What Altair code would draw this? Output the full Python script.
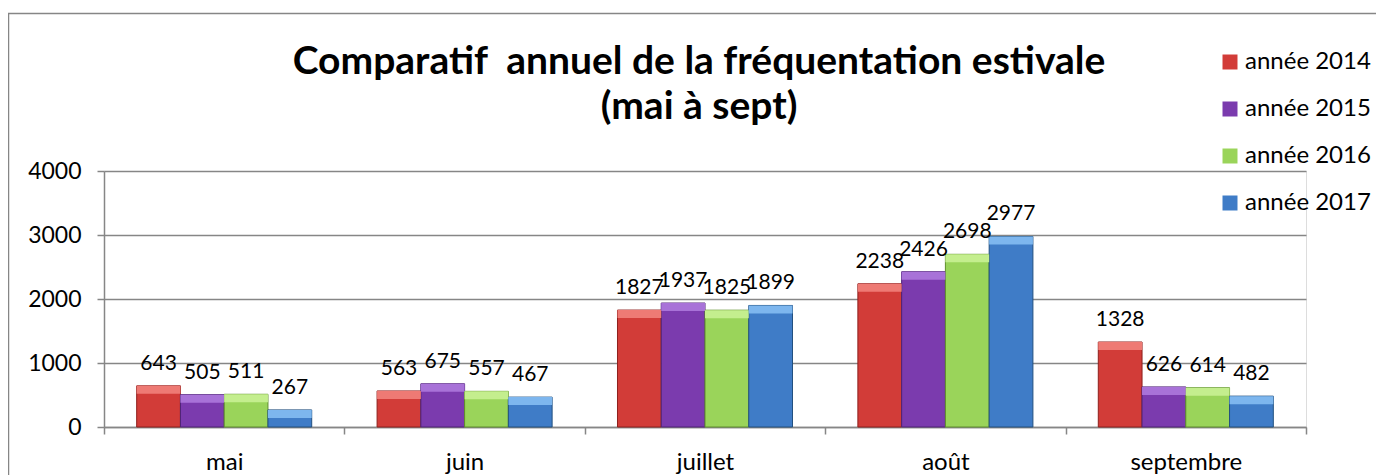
import altair as alt
import pandas as pd

months = ["mai", "juin", "juillet", "août", "septembre"]
years = ["année 2014", "année 2015", "année 2016", "année 2017"]
v2014 = [643, 563, 1827, 2238, 1328]
v2015 = [505, 675, 1937, 2426, 626]
v2016 = [511, 557, 1825, 2698, 614]
v2017 = [267, 467, 1899, 2977, 482]
y_ticks = [0, 1000, 2000, 3000, 4000]
title_lines = ["Comparatif\u00a0 annuel de la fréquentation estivale", "(mai à sept)"]

face = ["#D23C38", "#7B3BAE", "#9AD45A", "#3F7CC7"]
light = ["#EE7A74", "#A872D8", "#C4EE8E", "#7DB6EE"]
dark = ["#8E1F1C", "#4E2277", "#5F8F2C", "#22507F"]

series = [v2014, v2015, v2016, v2017]
rows = []
for yr, vals in zip(years, series):
    for m, v in zip(months, vals):
        rows.append({"mois": m, "annee": yr, "valeur": v})
df = pd.DataFrame(rows)

W, H = 1202, 256
FONT = "Lato"

x_enc = alt.X("mois:N", sort=months, title=None,
              scale=alt.Scale(paddingInner=0, paddingOuter=0),
              axis=alt.Axis(tickBand="extent", labelAngle=0, labelFontSize=24,
                            labelFont=FONT, labelColor="#000000", labelPadding=16,
                            tickSize=7, tickColor="#868686", tickWidth=1.5,
                            domainColor="#868686", domainWidth=1.5, grid=False))
xo_enc = alt.XOffset("annee:N", sort=years,
                     scale=alt.Scale(paddingInner=0, paddingOuter=0.747))
y_scale = alt.Scale(domain=[0, 4000], nice=False)

base = alt.Chart(df)

bars = base.mark_bar(strokeWidth=1).encode(
    x=x_enc,
    xOffset=xo_enc,
    y=alt.Y("valeur:Q", scale=y_scale, title=None,
            axis=alt.Axis(values=y_ticks, format="d", labelFontSize=23, labelFont=FONT,
                          labelColor="#000000", labelPadding=16, tickSize=7,
                          tickColor="#868686", tickWidth=1.5, domainColor="#868686",
                          domainWidth=1.5, gridColor="#868686", gridWidth=1.5)),
    color=alt.Color("annee:N", sort=years, title=None,
                    scale=alt.Scale(domain=years, range=face),
                    legend=alt.Legend(orient="none", legendX=1114, legendY=-121,
                                      symbolType="square", symbolSize=225,
                                      symbolStrokeWidth=0, labelFontSize=24,
                                      labelFont=FONT, labelColor="#000000",
                                      rowPadding=23, labelOffset=3, padding=0)),
    stroke=alt.Stroke("annee:N", sort=years,
                      scale=alt.Scale(domain=years, range=dark), legend=None),
)

tops = base.mark_bar(y2Offset=8, strokeWidth=0).encode(
    x=alt.X("mois:N", sort=months),
    xOffset=alt.XOffset("annee:N", sort=years),
    y=alt.Y("valeur:Q"),
    y2=alt.Y2("valeur:Q"),
    fill=alt.Fill("annee:N", sort=years,
                  scale=alt.Scale(domain=years, range=light), legend=None),
)

labels = base.mark_text(dy=-22, baseline="middle", fontSize=21, font=FONT,
                        color="#000000").encode(
    x=alt.X("mois:N", sort=months),
    xOffset=alt.XOffset("annee:N", sort=years),
    y=alt.Y("valeur:Q"),
    text=alt.Text("valeur:Q"),
)

one = pd.DataFrame({"a": [0]})
frame = alt.Chart(one).mark_rect(
    fill=None, stroke="#868686", strokeWidth=1.5).encode(
    x=alt.value(-95.5), x2=alt.value(W + 120),
    y=alt.value(-157.5), y2=alt.value(H + 80))

title1 = alt.Chart(one).mark_text(
    text=title_lines[0], fontSize=39, font=FONT, fontWeight="bold",
    color="#000000", align="center", baseline="middle").encode(
    x=alt.value(595), y=alt.value(-109))
title2 = alt.Chart(one).mark_text(
    text=title_lines[1], fontSize=39, font=FONT, fontWeight="bold",
    color="#000000", align="center", baseline="middle").encode(
    x=alt.value(595), y=alt.value(-64))

chart = alt.layer(frame, bars, tops, labels, title1, title2).resolve_scale(
    color="independent", fill="independent", stroke="independent"
).properties(
    width=W, height=H,
    autosize=alt.AutoSizeParams(type="none"),
    padding={"left": 96, "top": 163, "right": 70, "bottom": 52},
).configure_view(stroke=None).configure(background="#FFFFFF")

chart.save("out.html", embed_options={"renderer": "svg", "actions": False})
